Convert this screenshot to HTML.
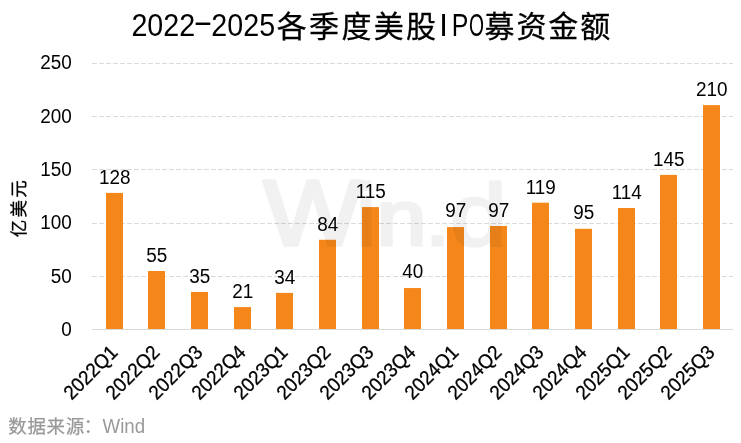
<!DOCTYPE html>
<html lang="zh-CN"><head><meta charset="utf-8"><title>2022-2025各季度美股IPO募资金额</title>
<style>
html,body{margin:0;padding:0;background:#fff;}
body{width:741px;height:443px;overflow:hidden;}
svg{display:block;}
text{font-family:"Liberation Sans",sans-serif;fill:#000;}
.cjk{font-family:"Liberation Sans","Noto Sans CJK SC",sans-serif;}
.num{font-size:20px;}
.xl{font-size:20px;text-anchor:end;stroke:#000;stroke-width:0.3px;}
</style></head><body>
<svg width="741" height="443" viewBox="0 0 741 443">
<rect width="741" height="443" fill="#fff"/>
<text id="title" y="36.9"><tspan x="131.40" y="36.40" font-size="30.5" textLength="63.78" lengthAdjust="spacingAndGlyphs">2022</tspan><tspan x="193.00" y="32.00" font-size="30.5" textLength="20.00" lengthAdjust="spacingAndGlyphs">-</tspan><tspan x="211.30" y="36.40" font-size="30.5" textLength="63.78" lengthAdjust="spacingAndGlyphs">2025</tspan><tspan class="cjk" x="276.80" y="36.9" font-size="30" letter-spacing="2.30" stroke="#000" stroke-width="0.3">各季度美股</tspan><tspan x="439.20" y="36.40" font-size="30.5" textLength="8.60" lengthAdjust="spacingAndGlyphs">I</tspan><tspan x="451.70" y="36.40" font-size="30.5" textLength="16.60" lengthAdjust="spacingAndGlyphs">P</tspan><tspan x="469.10" y="36.40" font-size="30.5" textLength="15.00" lengthAdjust="spacingAndGlyphs">O</tspan><tspan class="cjk" x="484.55" y="36.9" font-size="30" letter-spacing="1.90" stroke="#000" stroke-width="0.3">募资金额</tspan></text>
<line x1="92.1" x2="732.8" y1="276.50" y2="276.50" stroke="#D9D9D9" stroke-width="1" stroke-dasharray="4.7 2.3"/>
<line x1="92.1" x2="732.8" y1="223.50" y2="223.50" stroke="#D9D9D9" stroke-width="1" stroke-dasharray="4.7 2.3"/>
<line x1="92.1" x2="732.8" y1="169.50" y2="169.50" stroke="#D9D9D9" stroke-width="1" stroke-dasharray="4.7 2.3"/>
<line x1="92.1" x2="732.8" y1="116.50" y2="116.50" stroke="#D9D9D9" stroke-width="1" stroke-dasharray="4.7 2.3"/>
<line x1="92.1" x2="732.8" y1="63.50" y2="63.50" stroke="#D9D9D9" stroke-width="1" stroke-dasharray="4.7 2.3"/>
<line x1="92.1" x2="732.8" y1="329.5" y2="329.5" stroke="#D9D9D9" stroke-width="1"/>
<text class="num" transform="translate(71.80,336.15) scale(0.945,1)" text-anchor="end">0</text>
<text class="num" transform="translate(71.80,282.78) scale(0.945,1)" text-anchor="end">50</text>
<text class="num" transform="translate(71.80,229.41) scale(0.945,1)" text-anchor="end">100</text>
<text class="num" transform="translate(71.80,176.04) scale(0.945,1)" text-anchor="end">150</text>
<text class="num" transform="translate(71.80,122.67) scale(0.945,1)" text-anchor="end">200</text>
<text class="num" transform="translate(71.80,69.30) scale(0.945,1)" text-anchor="end">250</text>
<text class="cjk" font-size="17.5" letter-spacing="2.2" stroke="#000" stroke-width="0.3" text-anchor="middle" transform="translate(24.60,207.70) rotate(-90)">亿美元</text>
<rect x="106" y="192.90" width="17" height="136.10" fill="#F5871A"/>
<rect x="148" y="271.00" width="17" height="58.00" fill="#F5871A"/>
<rect x="191" y="291.95" width="17" height="37.05" fill="#F5871A"/>
<rect x="234" y="307.07" width="17" height="21.93" fill="#F5871A"/>
<rect x="276" y="292.90" width="17" height="36.10" fill="#F5871A"/>
<rect x="319" y="239.76" width="17" height="89.24" fill="#F5871A"/>
<rect x="362" y="207.07" width="17" height="121.93" fill="#F5871A"/>
<rect x="404" y="288.05" width="17" height="40.95" fill="#F5871A"/>
<rect x="447" y="227.07" width="17" height="101.93" fill="#F5871A"/>
<rect x="490" y="225.99" width="17" height="103.01" fill="#F5871A"/>
<rect x="532" y="202.70" width="17" height="126.30" fill="#F5871A"/>
<rect x="575" y="228.80" width="17" height="100.20" fill="#F5871A"/>
<rect x="618" y="208.00" width="17" height="121.00" fill="#F5871A"/>
<rect x="660" y="174.90" width="17" height="154.10" fill="#F5871A"/>
<rect x="703" y="105.10" width="17" height="223.90" fill="#F5871A"/>
<text id="wm" y="245.10" fill="#000" stroke="#000" stroke-width="3.6" stroke-linejoin="round" opacity="0.052"><tspan x="263.54" font-size="91.86" textLength="98.52" lengthAdjust="spacingAndGlyphs">W</tspan><tspan x="356.67" font-size="87.22" textLength="18.71" lengthAdjust="spacingAndGlyphs">i</tspan><tspan x="376.78" font-size="77.13" textLength="49.62" lengthAdjust="spacingAndGlyphs">n</tspan><tspan x="425.83" font-size="75.75" textLength="23.64" lengthAdjust="spacingAndGlyphs">.</tspan><tspan x="450.70" font-size="87.22" textLength="55.65" lengthAdjust="spacingAndGlyphs">d</tspan></text>
<text class="num" transform="translate(114.70,183.92) scale(0.945,1)" text-anchor="middle">128</text>
<text class="xl" transform="translate(118.80,353.60) rotate(-45) scale(0.935,1)">2022Q1</text>
<text class="num" transform="translate(156.70,261.80) scale(0.945,1)" text-anchor="middle">55</text>
<text class="xl" transform="translate(160.80,353.60) rotate(-45) scale(0.935,1)">2022Q2</text>
<text class="num" transform="translate(199.70,283.13) scale(0.945,1)" text-anchor="middle">35</text>
<text class="xl" transform="translate(203.80,353.60) rotate(-45) scale(0.935,1)">2022Q3</text>
<text class="num" transform="translate(242.70,298.07) scale(0.945,1)" text-anchor="middle">21</text>
<text class="xl" transform="translate(246.80,353.60) rotate(-45) scale(0.935,1)">2022Q4</text>
<text class="num" transform="translate(284.70,284.20) scale(0.945,1)" text-anchor="middle">34</text>
<text class="xl" transform="translate(288.80,353.60) rotate(-45) scale(0.935,1)">2023Q1</text>
<text class="num" transform="translate(327.70,230.86) scale(0.945,1)" text-anchor="middle">84</text>
<text class="xl" transform="translate(331.80,353.60) rotate(-45) scale(0.935,1)">2023Q2</text>
<text class="num" transform="translate(370.70,197.79) scale(0.945,1)" text-anchor="middle">115</text>
<text class="xl" transform="translate(374.80,353.60) rotate(-45) scale(0.935,1)">2023Q3</text>
<text class="num" transform="translate(412.70,277.80) scale(0.945,1)" text-anchor="middle">40</text>
<text class="xl" transform="translate(416.80,353.60) rotate(-45) scale(0.935,1)">2023Q4</text>
<text class="num" transform="translate(455.70,216.99) scale(0.945,1)" text-anchor="middle">97</text>
<text class="xl" transform="translate(459.80,353.60) rotate(-45) scale(0.935,1)">2024Q1</text>
<text class="num" transform="translate(498.70,216.99) scale(0.945,1)" text-anchor="middle">97</text>
<text class="xl" transform="translate(502.80,353.60) rotate(-45) scale(0.935,1)">2024Q2</text>
<text class="num" transform="translate(540.70,193.52) scale(0.945,1)" text-anchor="middle">119</text>
<text class="xl" transform="translate(544.80,353.60) rotate(-45) scale(0.935,1)">2024Q3</text>
<text class="num" transform="translate(583.70,219.12) scale(0.945,1)" text-anchor="middle">95</text>
<text class="xl" transform="translate(587.80,353.60) rotate(-45) scale(0.935,1)">2024Q4</text>
<text class="num" transform="translate(626.70,198.85) scale(0.945,1)" text-anchor="middle">114</text>
<text class="xl" transform="translate(630.80,353.60) rotate(-45) scale(0.935,1)">2025Q1</text>
<text class="num" transform="translate(668.70,165.78) scale(0.945,1)" text-anchor="middle">145</text>
<text class="xl" transform="translate(672.80,353.60) rotate(-45) scale(0.935,1)">2025Q2</text>
<text class="num" transform="translate(711.70,96.44) scale(0.945,1)" text-anchor="middle">210</text>
<text class="xl" transform="translate(715.80,353.60) rotate(-45) scale(0.935,1)">2025Q3</text>
<text id="src" y="433" font-size="19" style="fill:#999999"><tspan class="cjk" x="8.3" font-size="18.5" letter-spacing="0.65" stroke="#999999" stroke-width="0.25">数据来源</tspan><tspan class="cjk" x="83.6">：</tspan><tspan x="102.5" font-size="20" textLength="42.64" lengthAdjust="spacingAndGlyphs">Wind</tspan></text>
</svg></body></html>
